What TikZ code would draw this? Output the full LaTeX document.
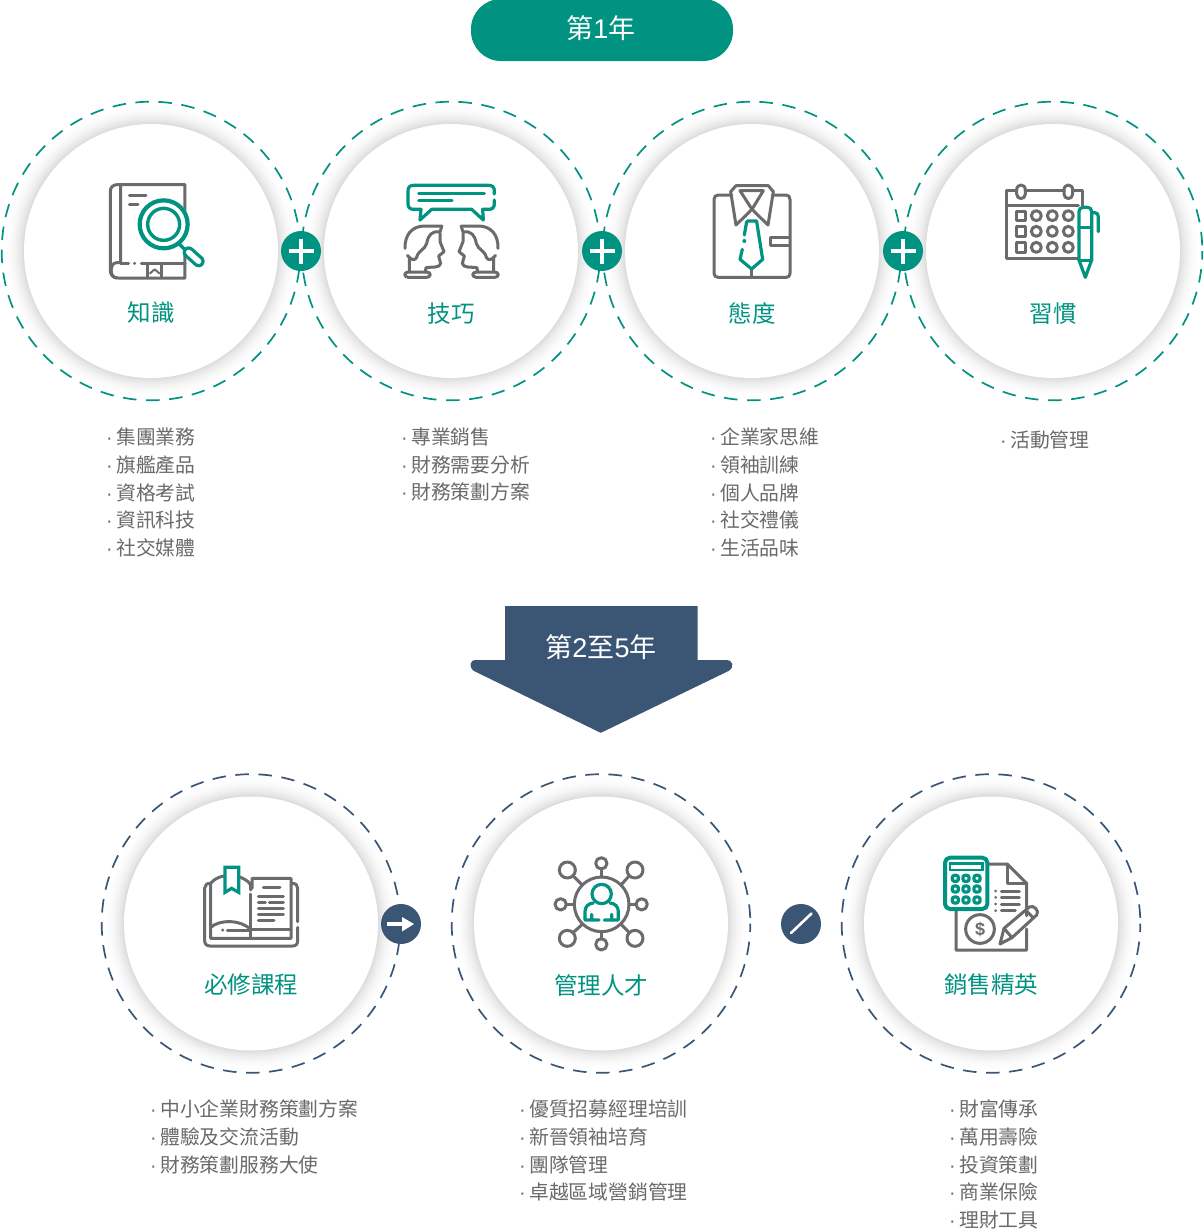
\documentclass[tikz,border=0pt]{standalone}
\usepackage{fontspec}
\setmainfont{Noto Sans CJK TC}
\newfontfamily\latn{Liberation Sans}
\definecolor{teal1}{HTML}{009382}
\definecolor{navy1}{HTML}{3A5674}
\definecolor{gline}{HTML}{6B6B6E}
\definecolor{txt}{HTML}{6A6A6A}
\tikzset{
  gl/.style={draw=gline,line width=3pt,line cap=round,line join=round},
  tl/.style={draw=teal1,line width=3.2pt,line cap=round,line join=round},
  title/.style={text=teal1,font=\fontsize{23.5}{28}\selectfont,inner sep=0pt},
  lst/.style={text=txt,font=\fontsize{19.8}{27.8}\selectfont,inner sep=0pt,align=left,anchor=north west},
  badge/.style={fill=#1,draw=none},
  dashring/.style={draw=#1,line width=1.7pt,dash pattern=on 13.5pt off 9.6pt,dash phase=5pt},
  banner/.style={text=white,font=\fontsize{27}{30}\selectfont,inner sep=0pt},
}
\newcommand{\ringbase}[3]{%
  \foreach \i in {0,...,23}{%
    \pgfmathsetmacro{\rr}{150-\i}%
    \pgfmathsetmacro{\pp}{15*(\i/23)^2.4}%
    \fill[black!\pp!white] (#1,#2) circle[radius=\rr];%
  }%
  \fill[white] (#1,#2) circle[radius=127];%
  \draw[dashring=#3] (#1,#2) circle[radius=149.3];%
}
\newcommand{\li}[1]{\makebox[8pt][l]{\hspace{-2pt}\latn ·}#1}
\begin{document}
\begin{tikzpicture}[x=1pt,y=-1pt]
\useasboundingbox (0,0) rectangle (1203,1232);
\fill[white] (0,0) rectangle (1203,1232);

% banner 1
\fill[teal1,rounded corners=30pt] (471,-1) rectangle (733,61);
\node[banner] (y1) at (601,28) {第{\latn 1}年};

% top rings
\ringbase{151}{251}{teal1}
\ringbase{451}{251}{teal1}
\ringbase{752}{251}{teal1}
\ringbase{1053}{251}{teal1}

% plus badges
\foreach \cx/\nm in {301/p1,602/p2,903/p3}{
  \node[circle,badge=teal1,minimum size=40pt,inner sep=0pt] (\nm) at (\cx,251) {};
  \draw[white,line width=4.6pt] (\cx-12.5,251)--(\cx+12.5,251) (\cx,238.5)--(\cx,263.5);
}

% titles top
\node[title] (t1) at (151,313) {知識};
\node[title] (t2) at (451,314) {技巧};
\node[title] (t3) at (752,314) {態度};
\node[title] (t4) at (1053,314) {習慣};

% lists top
\node[lst] (l1) at (108,427.5) {\li{集團業務}\\\li{旗艦產品}\\\li{資格考試}\\\li{資訊科技}\\\li{社交媒體}};
\node[lst] (l2) at (403,427.5) {\li{專業銷售}\\\li{財務需要分析}\\\li{財務策劃方案}};
\node[lst] (l3) at (712,427.5) {\li{企業家思維}\\\li{領袖訓練}\\\li{個人品牌}\\\li{社交禮儀}\\\li{生活品味}};
\node[lst] (l4) at (1002,430.5) {\li{活動管理}};

% icon 1: book + magnifier
\begin{scope}[shift={(0,90)},scale=1/3]
  \draw[gl] (555,400) -- (555,284) -- (352,284) .. controls (338,284) and (331,292) .. (331,305) -- (331,540) .. controls (331,556) and (340,564) .. (355,564) -- (555,564) -- (555,480);
  \draw[gl] (362,284) -- (362,518) -- (350,518) .. controls (328,518) and (328,564) .. (350,564);
  \draw[gl] (362,520) -- (386,520);
  \fill[gline] (404,520) circle[radius=5];
  \draw[gl] (424,520) -- (555,520);
  \draw[gl] (444,522) -- (444,562) (484,522) -- (484,562);
  \draw[gl,line width=2pt] (450,550) -- (464,538) -- (478,550);
  \draw[gl] (388,316) -- (438,316) (388,342) -- (414,342);
  \fill[white] (491,403) circle[radius=78];
  \draw[tl,line width=4.2pt] (491,403) circle[radius=72];
  \draw[tl,line width=3.4pt] (491,403) circle[radius=48];
  \draw[tl,line width=3.4pt] (536,460) -- (556,480);
  \draw[tl,line width=12pt] (566,487) -- (596,514);
  \draw[white,line width=5.4pt,line cap=round] (566,487) -- (596,514);
\end{scope}

% icon 2: speech + heads
\begin{scope}[shift={(390,170)},scale=1/3]
  \draw[tl] (313,72) -- (313,62) .. controls (313,52) and (307,46) .. (297,46) -- (70,46) .. controls (60,46) and (54,52) .. (54,62) -- (54,102) .. controls (54,112) and (60,118) .. (70,118) -- (93,118) -- (90,150) -- (125,118) -- (245,118) -- (280,150) -- (278,118) -- (297,118) .. controls (307,118) and (313,112) .. (313,102) -- (313,90);
  \draw[tl] (86,71) -- (283,71) (86,92) -- (186,92);
  \foreach \sc/\ox in {1/0,-1/369}{
    \begin{scope}[shift={(\ox,0)},xscale=\sc]
      \draw[gl] (156,168) -- (100,168) .. controls (65,170) and (44,195) .. (45,235);
      \draw[gl] (155,170) -- (150,186) .. controls (125,182) and (115,195) .. (110,220) .. controls (105,240) and (85,240) .. (80,262) .. controls (75,272) and (65,270) .. (58,262) (52,256) -- (58,262) -- (58,306);
      \draw[gl] (150,190) -- (150,215) -- (162,245) -- (146,258) -- (152,280) .. controls (150,295) and (125,290) .. (108,293) -- (106,306);
      \draw[gl] (55,306) -- (110,306) .. controls (124,306) and (124,322) .. (110,322) -- (55,322) .. controls (41,322) and (41,306) .. (55,306) -- cycle;
    \end{scope}
  }
\end{scope}

% icon 3: shirt
\begin{scope}[shift={(700,170)},scale=1/3]
  \draw[gl] (95,75) -- (55,75) .. controls (47,75) and (42,80) .. (42,88) -- (42,310) .. controls (42,318) and (47,322) .. (55,322) -- (258,322) .. controls (266,322) and (270,318) .. (270,310) -- (270,88) .. controls (270,80) and (266,75) .. (258,75) -- (218,75);
  \draw[gl] (108,47) -- (205,47) -- (220,65) -- (204,165) -- (156,118) -- (108,165) -- (92,65) -- cycle;
  \draw[gl] (120,62) -- (190,62) -- (156,118) -- cycle;
  \draw[gl] (155,298) -- (155,322);
  \draw[gl] (265,203) -- (210,203) -- (210,225) -- (265,225);
  \draw[tl] (142,153) -- (170,153) (140,155) -- (133,195);
  \fill[teal1] (133,213) circle[radius=6];
  \draw[tl] (127,238) -- (120,268) -- (155,297) -- (188,268) -- (170,155);
\end{scope}

% icon 4: calendar + pen
\begin{scope}[shift={(700,170)},scale=1/3]
  \draw[gl] (950,62) -- (920,62) -- (920,265) -- (1135,265);
  \draw[gl] (975,62) -- (1092,62) (1118,62) -- (1148,62) -- (1148,110);
  \draw[gl] (920,105) -- (1135,105);
  \foreach \xx in {950,1092}{
    \draw[gl] (\xx,62) -- (\xx,60) .. controls (\xx,40) and (\xx+26,40) .. (\xx+26,60) -- (\xx+26,72) .. controls (\xx+26,90) and (\xx,90) .. (\xx,72) -- cycle;
  }
  \foreach \yy in {137,184,232}{
    \draw[gl] (948,\yy-14) rectangle (976,\yy+14);
    \foreach \xx in {1009,1057,1105}{
      \draw[gl] (\xx,\yy) circle[radius=15];
    }
  }
  \filldraw[tl,fill=white] (1137,125) .. controls (1137,116) and (1142,112) .. (1150,112) -- (1162,112) .. controls (1170,112) and (1175,116) .. (1175,125) -- (1175,270) -- (1156,322) -- (1137,270) -- cycle;
  \draw[tl] (1137,172) -- (1175,172) (1137,272) -- (1175,272);
  \draw[tl] (1175,128) -- (1184,128) .. controls (1191,128) and (1195,132) .. (1195,140) -- (1195,185);
\end{scope}

% arrow banner 2
\fill[navy1] (505,606) -- (697.5,606) -- (697.5,660) -- (726,660) .. controls (733,660) and (735,667) .. (728.5,671) -- (602.5,732) .. controls (601,733) and (600,733) .. (599,732) -- (474,671) .. controls (468.5,667) and (469.5,660) .. (476,660) -- (505,660) -- cycle;
\node[banner] (y2) at (601,647.5) {第{\latn 2}至{\latn 5}年};

% bottom rings
\ringbase{251}{923.5}{navy1}
\ringbase{601}{923.5}{navy1}
\ringbase{991}{923.5}{navy1}

\node[circle,badge=navy1,minimum size=40pt,inner sep=0pt] (a1) at (401,924) {};
\draw[white,line width=4.2pt] (387,924) -- (404,924);
\fill[white] (402,917) -- (414,924) -- (402,931.5) -- cycle;
\node[circle,badge=navy1,minimum size=40pt,inner sep=0pt] (a2) at (801,924) {};
\draw[white,line width=2.6pt,line cap=round] (791,933) -- (811.5,913.5);

\node[title] (t5) at (251,985) {必修課程};
\node[title] (t6) at (601,985) {管理人才};
\node[title] (t7) at (991,985) {銷售精英};

\node[lst] (l5) at (152,1099.5) {\li{中小企業財務策劃方案}\\\li{體驗及交流活動}\\\li{財務策劃服務大使}};
\node[lst] (l6) at (521,1099.5) {\li{優質招募經理培訓}\\\li{新晉領袖培育}\\\li{團隊管理}\\\li{卓越區域營銷管理}};
\node[lst] (l7) at (951,1099.5) {\li{財富傳承}\\\li{萬用壽險}\\\li{投資策劃}\\\li{商業保險}\\\li{理財工具}};

% icon 5: open book
\begin{scope}[shift={(190,850)},scale=1/3]
  \draw[gl] (60,100) .. controls (50,100) and (44,106) .. (44,115) -- (44,272) .. controls (44,282) and (50,288) .. (60,288) -- (308,288) .. controls (318,288) and (323,282) .. (323,272) -- (323,232);
  \draw[gl] (323,215) -- (323,115) .. controls (323,106) and (318,100) .. (306,100);
  \draw[gl] (182,120) -- (182,105) .. controls (170,78) and (95,60) .. (62,100) -- (62,265) -- (303,265) -- (303,85) -- (186,85) -- (186,115);
  \draw[gl] (182,132) -- (182,265);
  \draw[gl] (62,232) .. controls (90,208) and (150,208) .. (182,238);
  \draw[gl] (112,240) -- (182,240) (186,238) -- (303,238);
  \fill[gline] (98,240) circle[radius=5];
  \draw[gl] (220,112) -- (270,112) (205,140) -- (280,140) (205,157) -- (226,157) (238,157) -- (280,157) (205,175) -- (280,175) (205,192) -- (280,192) (205,210) -- (252,210);
  \filldraw[tl,fill=white,line cap=butt,line join=miter] (105,52) -- (146,52) -- (146,127) -- (125,115) -- (105,127) -- cycle;
\end{scope}

% icon 6: network + person
\begin{scope}[shift={(540,845)},scale=1/3]
  \draw[gl] (185,178) circle[radius=82];
  \foreach \xx/\yy/\rr in {184/55/17,184/298/17,62/178/17,305/178/17,82/75/24,285/75/24,82/280/24,285/280/24}{
    \draw[gl] (\xx,\yy) circle[radius=\rr];
  }
  \draw[gl] (184,72) -- (184,96) (184,260) -- (184,281) (79,178) -- (103,178) (267,178) -- (288,178);
  \draw[gl] (99,92) -- (127,120) (268,92) -- (243,120) (99,263) -- (127,238) (268,263) -- (243,238);
  \draw[tl] (185,147) circle[radius=29];
  \draw[tl] (160,174) .. controls (145,175) and (135,185) .. (135,200) -- (135,225) -- (177,225) (155,208) -- (155,225);
  \draw[tl] (210,174) .. controls (225,175) and (235,185) .. (235,200) -- (235,225) -- (193,225) (215,208) -- (215,225);
\end{scope}

% icon 7: calculator + document
\begin{scope}[shift={(930,845)},scale=1/3]
  \draw[gl] (175,57) -- (232,57) -- (290,115) -- (290,212) (290,252) -- (290,315) -- (78,315) -- (78,192);
  \draw[gl] (232,57) -- (232,115) -- (290,115);
  \foreach \yy in {138,157,177,197}{
    \fill[gline] (197,\yy) circle[radius=4.5];
  }
  \draw[gl] (214,138) -- (268,138) (214,157) -- (268,157) (214,177) -- (268,177) (214,197) -- (256,197);
  \draw[gl] (150,252) circle[radius=43];
  \node[text=gline,font=\latn\bfseries\fontsize{18}{18}\selectfont,inner sep=0pt] (dollar) at (150,252) {\$};
  \draw[gl] (210,297) -- (222,250) -- (298,186) .. controls (310,178) and (330,198) .. (320,210) -- (246,278) -- cycle;
  \draw[gl] (222,250) -- (246,278) (288,196) -- (310,219);
  \filldraw[tl,fill=white,line width=4pt,rounded corners=5pt] (45,38) rectangle (172,192);
  \draw[tl,line width=2.4pt,line join=miter] (60,55) rectangle (157,75);
  \foreach \xx in {76,108,141}{
    \foreach \yy in {100,132,165}{
      \draw[tl,rounded corners=2pt] (\xx-9,\yy-9) rectangle (\xx+9,\yy+9);
    }
  }
\end{scope}
\end{tikzpicture}
\end{document}
